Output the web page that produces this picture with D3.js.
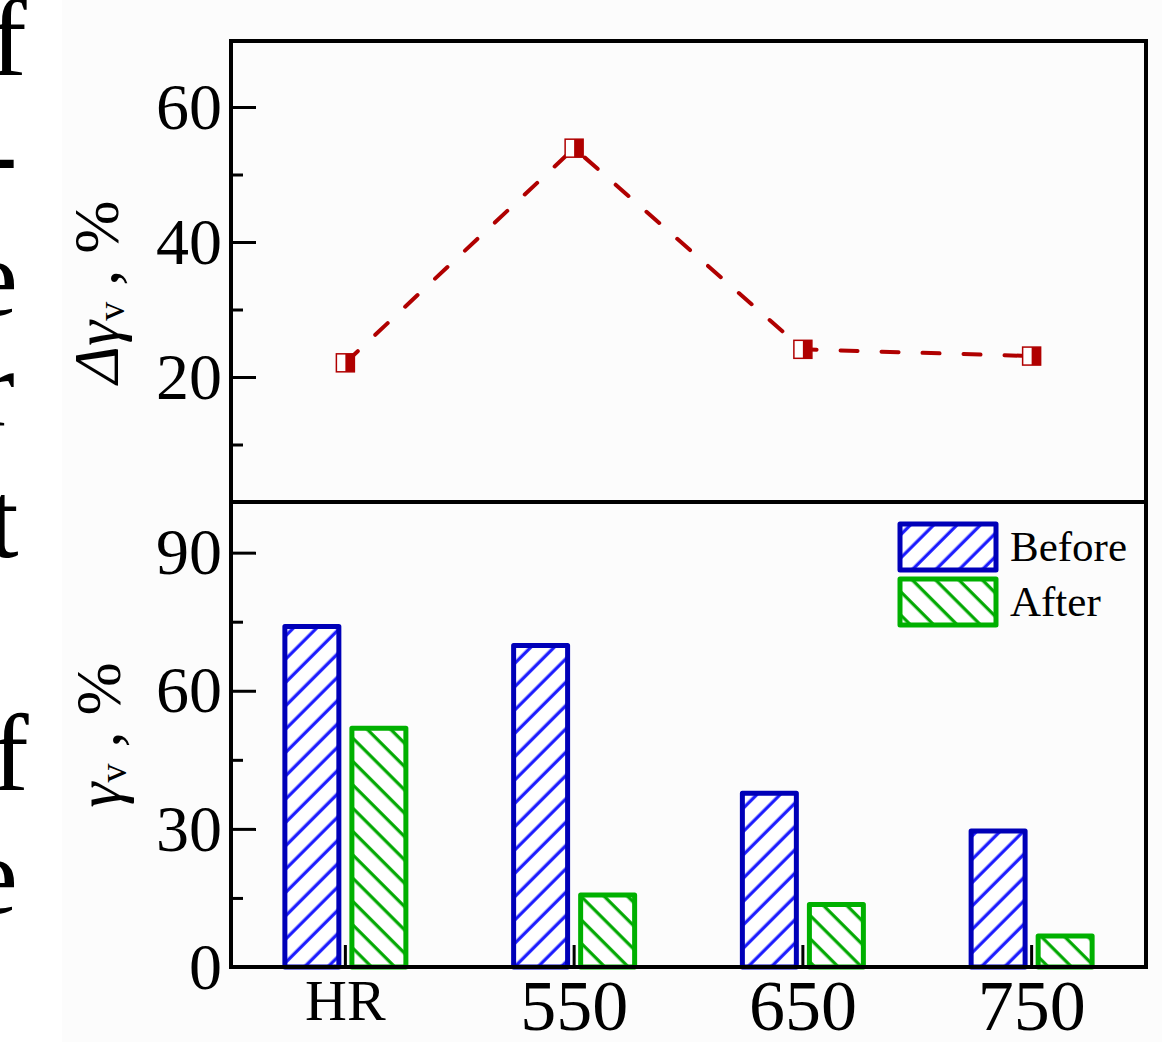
<!DOCTYPE html>
<html>
<head>
<meta charset="utf-8">
<script src="https://cdn.jsdelivr.net/npm/d3@7"></script>
<style>
  body { margin: 0; background: #fff; }
  svg { display: block; }
</style>
</head>
<body>
<div id="chart"></div>
<script>
// data
const categories = ["HR", "550", "650", "750"];
const seriesNames = ["Before", "After"];
const beforeVals = [74.5, 70.4, 38.3, 30.1];
const afterVals = [52.4, 16.2, 14.1, 7.3];
const deltaVals = [22.1, 53.9, 24.1, 23.1];
const topTicks = [20, 40, 60];
const topMinorTicks = [10, 30, 50];
const botTicks = [0, 30, 60, 90];
const botMinorTicks = [15, 45, 75];

const W = 1162, H = 1042;
const left = 231, right = 1146, topY = 41, midY = 502, botY = 967;
const serif = "'Liberation Serif', 'Times New Roman', serif";
const red = "#b00000";
const colors = {
    Before: { stroke: "#0000b8", hatch: "#1a1aff", angle: 45 },
    After: { stroke: "#00b000", hatch: "#00a800", angle: -45 }
};

const svg = d3.select("#chart").append("svg")
    .attr("width", W)
    .attr("height", H);

// hatch patterns
const defs = svg.append("defs");
seriesNames.forEach(s => {
    const p = defs.append("pattern")
        .attr("id", "hatch-" + s)
        .attr("patternUnits", "userSpaceOnUse")
        .attr("width", 16.5)
        .attr("height", 16.5)
        .attr("patternTransform", `rotate(${colors[s].angle})`);
    p.append("rect").attr("width", 16.5).attr("height", 16.5).attr("fill", "#fff");
    p.append("line")
        .attr("x1", 8).attr("y1", 0).attr("x2", 8).attr("y2", 16.5)
        .attr("stroke", colors[s].hatch)
        .attr("stroke-width", 3.2);
});

// slightly grey picture background
svg.append("rect").attr("x", 62).attr("y", 0).attr("width", W - 62).attr("height", H).attr("fill", "#fcfcfc");

// cut-off letters on the left edge
const edgeLetters = [["f", -10, 75], ["-", -19, 190], ["e", -31, 315], ["r", -22, 425], ["t", -12, 557], ["f", -8, 790], ["e", -31, 913]];
svg.selectAll(".edge")
    .data(edgeLetters)
    .enter().append("text")
    .attr("class", "edge")
    .attr("x", d => d[1])
    .attr("y", d => d[2])
    .attr("font-family", serif)
    .attr("font-size", 110)
    .text(d => d[0]);

// scales
const x0 = d3.scaleBand().domain(categories).range([left, right]);
const x1 = d3.scaleBand().domain(seriesNames).range([-63, 63]).paddingInner(0.12);
const yTop = d3.scaleLinear().domain([0, 70]).range([512, 39.5]);
const yBot = d3.scaleLinear().domain([0, 101]).range([botY, midY]);
const cx = c => x0(c) + x0.bandwidth() / 2;

function styleAxis(g, size) {
    g.select(".domain").remove();
    g.selectAll(".tick line").attr("stroke", "#000").attr("stroke-width", 3);
    g.selectAll("text").attr("font-family", serif).attr("font-size", size).attr("fill", "#000");
}

// ---- top panel ----
svg.append("g")
    .attr("transform", `translate(${left},0)`)
    .call(d3.axisLeft(yTop).tickValues(topTicks).tickSize(-25).tickPadding(9))
    .call(g => styleAxis(g, 66));
svg.append("g")
    .attr("transform", `translate(${left},0)`)
    .call(d3.axisLeft(yTop).tickValues(topMinorTicks).tickSize(-12).tickFormat(""))
    .call(g => styleAxis(g, 66));

const deltaData = categories.map((c, i) => ({ c: c, v: deltaVals[i] }));
svg.append("path")
    .datum(deltaData)
    .attr("fill", "none")
    .attr("stroke", red)
    .attr("stroke-width", 4)
    .attr("stroke-dasharray", "17,24")
    .attr("stroke-linecap", "round")
    .attr("d", d3.line().x(d => cx(d.c)).y(d => yTop(d.v)));

const marks = svg.selectAll(".mark")
    .data(deltaData)
    .enter().append("g")
    .attr("class", "mark")
    .attr("transform", d => `translate(${cx(d.c)},${yTop(d.v)})`);
marks.append("rect")
    .attr("x", -9).attr("y", -9).attr("width", 18).attr("height", 18)
    .attr("fill", "#fff").attr("stroke", red).attr("stroke-width", 1.5);
marks.append("rect")
    .attr("x", 0).attr("y", -9).attr("width", 9).attr("height", 18)
    .attr("fill", red);

svg.append("rect")
    .attr("x", left).attr("y", topY)
    .attr("width", right - left).attr("height", midY - topY)
    .attr("fill", "none").attr("stroke", "#000").attr("stroke-width", 4);

// y label top
const lab1 = svg.append("text")
    .attr("transform", "translate(118,292) rotate(-90)")
    .attr("text-anchor", "middle")
    .attr("font-family", serif)
    .attr("font-size", 64);
lab1.append("tspan").attr("font-style", "italic").text("\u0394\u03b3");
lab1.append("tspan").attr("font-size", 38).attr("dy", 6).text("v");
lab1.append("tspan").attr("dy", -6).text(" , %");

// ---- bottom panel ----
svg.append("g")
    .attr("transform", `translate(${left},0)`)
    .call(d3.axisLeft(yBot).tickValues(botTicks).tickSize(-25).tickPadding(9))
    .call(g => styleAxis(g, 66));
svg.append("g")
    .attr("transform", `translate(${left},0)`)
    .call(d3.axisLeft(yBot).tickValues(botMinorTicks).tickSize(-12).tickFormat(""))
    .call(g => styleAxis(g, 66));

svg.append("g")
    .attr("transform", `translate(0,${botY})`)
    .call(d3.axisBottom(x0).tickSize(-22).tickPadding(12))
    .call(g => styleAxis(g, 72))
    .call(g => g.selectAll("text").filter(d => d === "HR").attr("font-size", 58));

const barData = [];
categories.forEach((c, i) => {
    barData.push({ c: c, s: "Before", v: beforeVals[i] });
    barData.push({ c: c, s: "After", v: afterVals[i] });
});
svg.selectAll(".bar")
    .data(barData)
    .enter().append("rect")
    .attr("class", "bar")
    .attr("x", d => cx(d.c) + x1(d.s) + 2.5)
    .attr("width", x1.bandwidth() - 5)
    .attr("y", d => yBot(d.v) + 2.5)
    .attr("height", d => yBot(0) - yBot(d.v) - 2.5)
    .attr("fill", d => `url(#hatch-${d.s})`)
    .attr("stroke", d => colors[d.s].stroke)
    .attr("stroke-width", 5)
    .attr("stroke-linejoin", "round");

svg.append("path")
    .attr("d", `M${left},${midY} L${left},${botY} L${right},${botY} L${right},${midY}`)
    .attr("fill", "none").attr("stroke", "#000").attr("stroke-width", 4);

// legend
const legend = svg.selectAll(".legend")
    .data(seriesNames)
    .enter().append("g")
    .attr("class", "legend")
    .attr("transform", (d, i) => `translate(900,${524 + i * 55})`);
legend.append("rect")
    .attr("width", 96).attr("height", 46)
    .attr("fill", d => `url(#hatch-${d})`)
    .attr("stroke", d => colors[d].stroke)
    .attr("stroke-width", 5)
    .attr("stroke-linejoin", "round");
legend.append("text")
    .attr("x", 110).attr("y", 37)
    .attr("font-family", serif)
    .attr("font-size", 43)
    .text(d => d);

// y label bottom
const lab2 = svg.append("text")
    .attr("transform", "translate(120,735) rotate(-90)")
    .attr("text-anchor", "middle")
    .attr("font-family", serif)
    .attr("font-size", 64);
lab2.append("tspan").attr("font-style", "italic").text("\u03b3");
lab2.append("tspan").attr("font-size", 38).attr("dy", 6).text("v");
lab2.append("tspan").attr("dy", -6).text(" , %");
</script>
</body>
</html>
